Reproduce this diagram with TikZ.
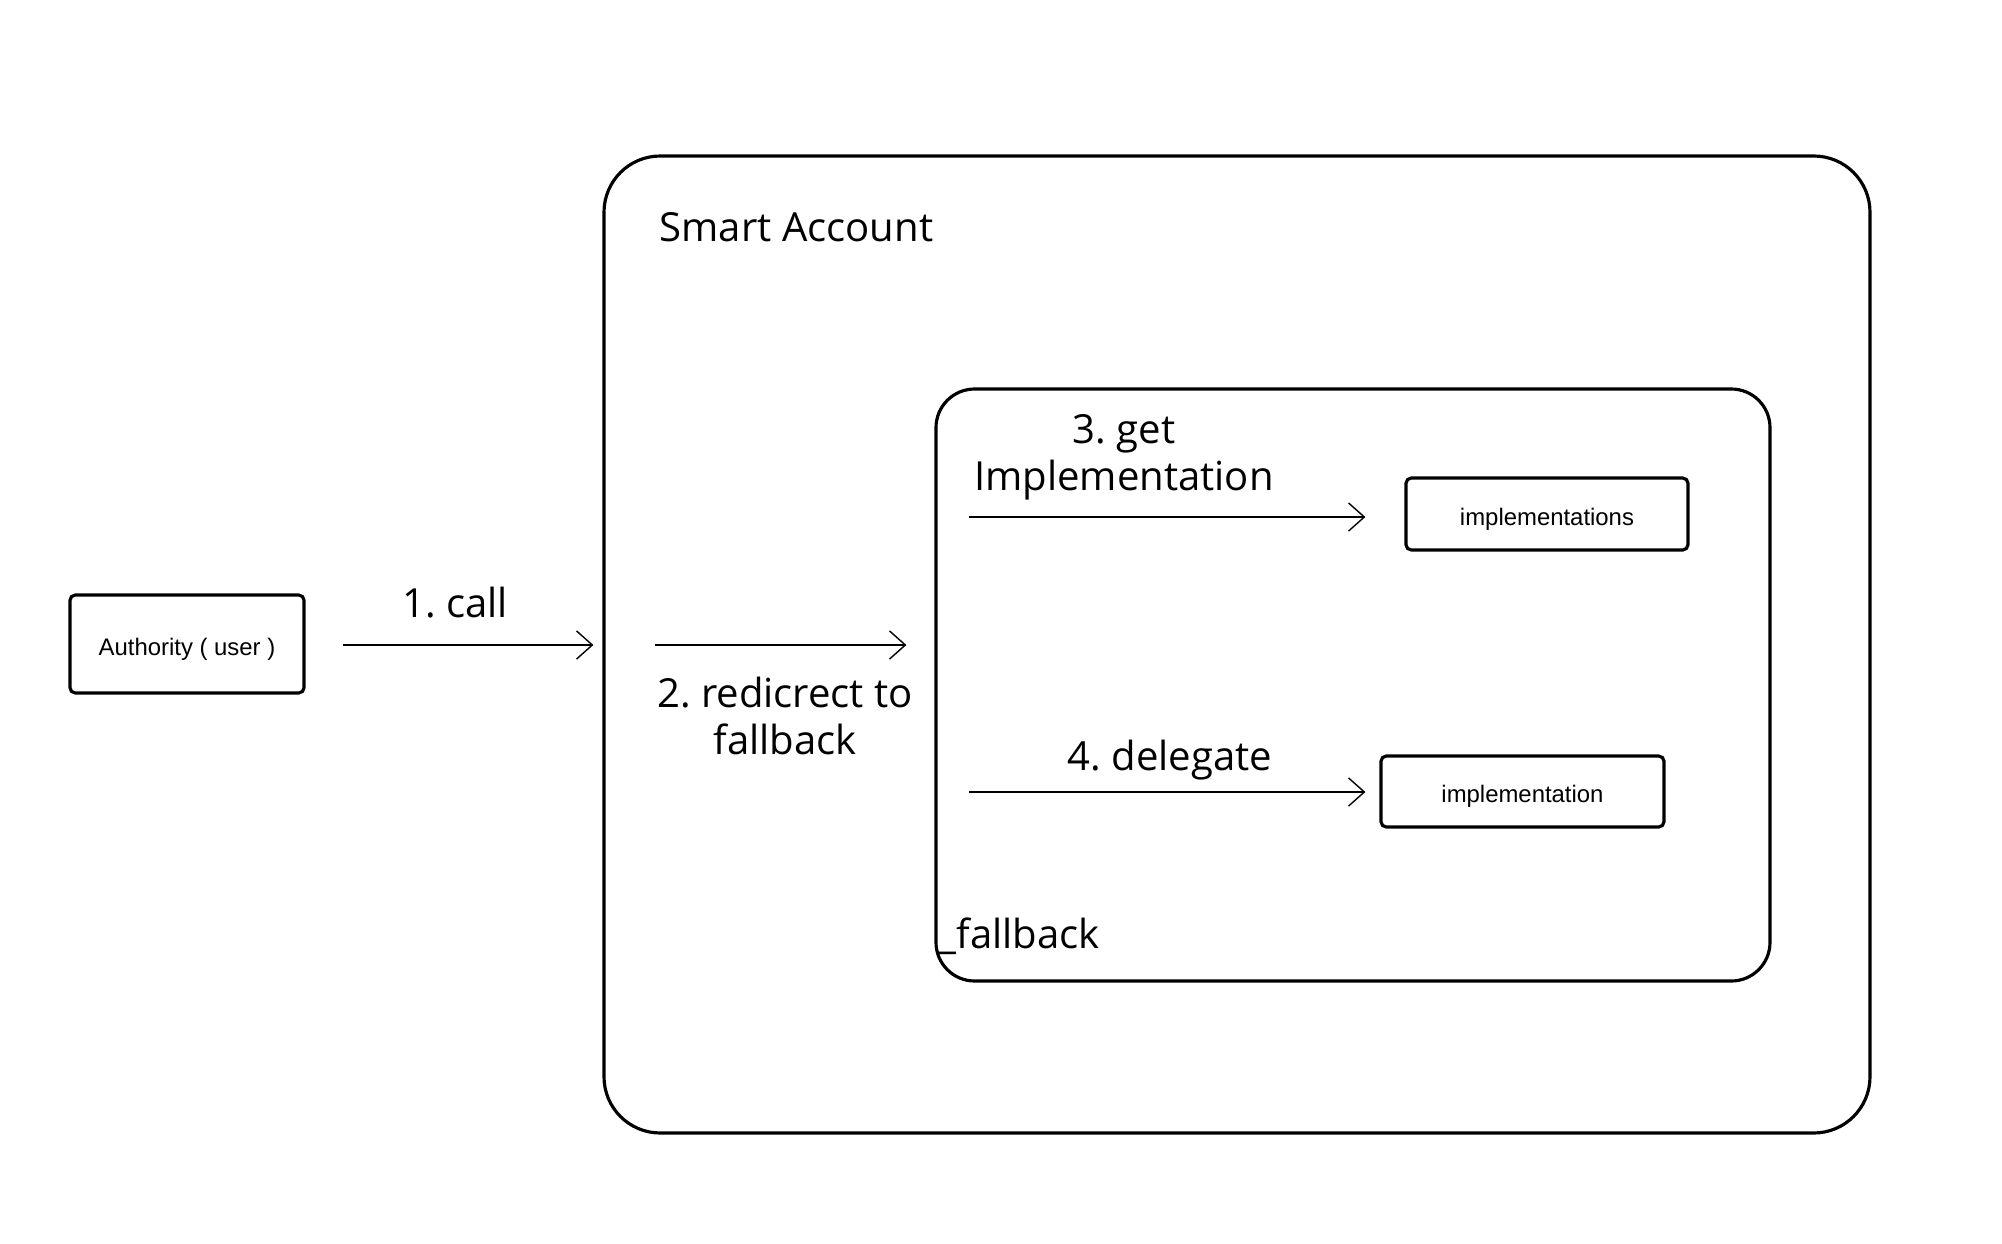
\documentclass[tikz,border=0pt]{standalone}
\usepackage{fontspec}
\setmainfont{Open Sans}
\newfontfamily\boxfont{Liberation Sans}
\usetikzlibrary{arrows.meta}
\usetikzlibrary{positioning}
\frenchspacing

\tikzset{
  frame/.style={draw, line width=0.9pt, rounded corners=#1},
  frame/.default=3pt,
  actor/.style={draw, line width=0.9pt, rounded corners=1.5pt, text height=6.4pt, text depth=0pt, font=\boxfont\fontsize{6.8}{8}\selectfont},
  flow/.style={-{Straight Barb[length=4.5pt,width=8pt]}, line width=0.4pt},
  caption/.style={font=\fontsize{11.4}{13.4}\selectfont, align=center, inner sep=0pt}
}

\begin{document}
\begin{tikzpicture}
    \useasboundingbox (0,0) rectangle (20.02,-12.44);
    % containers
    \node[frame=16pt, minimum width=12.66cm, minimum height=9.77cm] (account) at (12.37,-6.445) {};
    \node[frame=11pt, minimum width=8.34cm, minimum height=5.92cm] (fallback) at (13.53,-6.85) {};
    \node[caption, anchor=west] (accountname) at (6.59,-2.27) {Smart Account};
    \node[caption, anchor=west] (fallbackname) at (9.38,-9.36) {\_fallback};
    % boxes
    \node[actor, minimum width=2.34cm, minimum height=0.98cm] (authority) at (1.87,-6.44) {Authority ( user )};
    \node[actor, minimum width=2.82cm, minimum height=0.72cm] (implementations) at (15.47,-5.14) {implementations};
    \node[actor, minimum width=2.83cm, minimum height=0.71cm] (implementation) at (15.225,-7.915) {implementation};
    % steps
    \coordinate (redirect) at (6.55,-6.45);
    \coordinate (lookup) at (9.69,-5.17);
    \coordinate (delegate) at (9.69,-7.92);
    \draw[flow, shorten <=0.37cm, shorten >=0.09cm] (authority.east |- redirect) -- (redirect -| account.west);
    \draw[flow, shorten >=0.28cm] (redirect) -- (redirect -| fallback.west);
    \draw[flow, shorten >=0.39cm] (lookup) -- (lookup -| implementations.west);
    \draw[flow, shorten >=0.14cm] (delegate) -- (delegate -| implementation.west);
    \node[caption] (callname) at (4.55,-6.03) {1. call};
    \node[caption] (redirectname) at (7.85,-7.16) {2. redicrect to\\fallback};
    \node[caption] (lookupname) at (11.24,-4.57) {3. get\\Implementation};
    \node[caption] (delegatename) at (11.70,-7.60) {4. delegate};
\end{tikzpicture}
\end{document}
